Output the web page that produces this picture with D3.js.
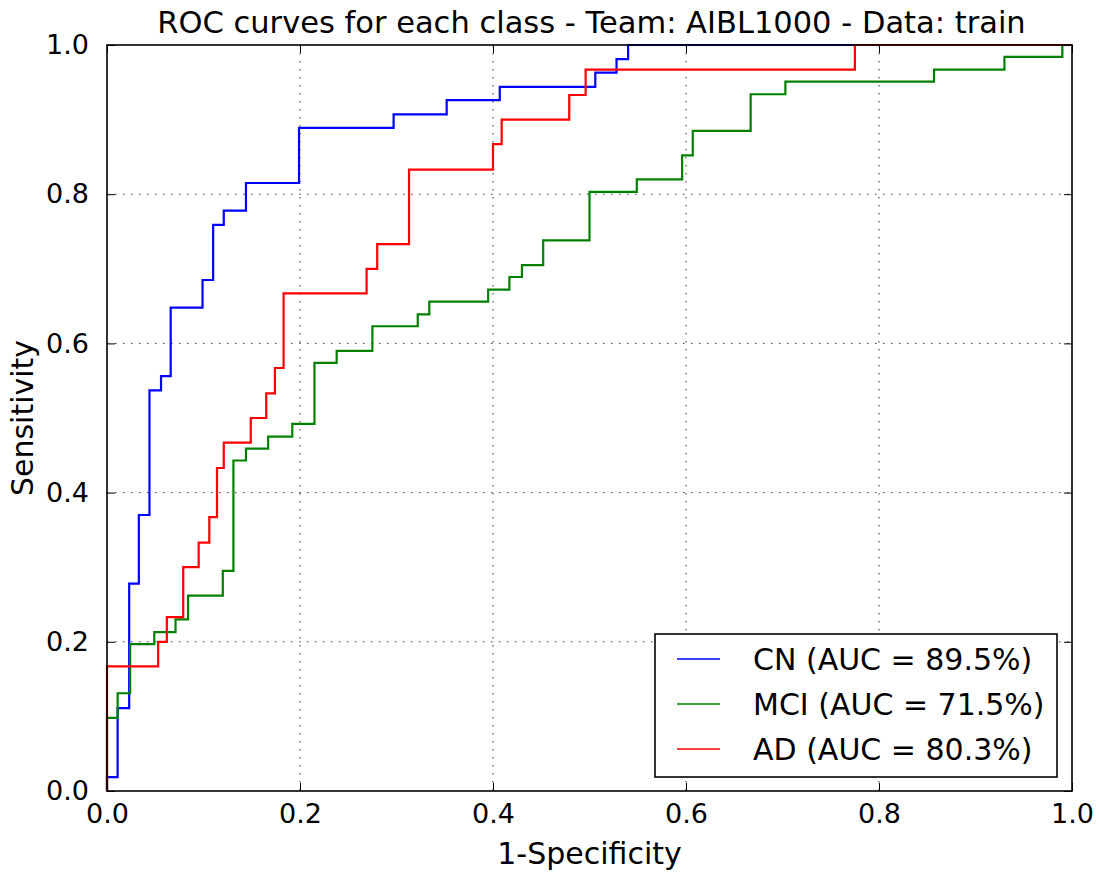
<!DOCTYPE html>
<html lang="en">
<head>
<meta charset="utf-8">
<script src="https://d3js.org/d3.v7.min.js"></script>
<style>
  body { margin: 0; background: #fff; }
  text { font-family: "DejaVu Sans", sans-serif; fill: #000; }
</style>
</head>
<body>
<svg id="chart" width="1099" height="873"></svg>
<script>
// ROC vertices per class: at each fpr the curve steps up to the given tpr
var cnFpr  = [0, 0, 0.011, 0.023, 0.033, 0.044, 0.056, 0.066, 0.099, 0.110, 0.121, 0.144, 0.199, 0.297, 0.352, 0.407, 0.506, 0.528, 0.540, 1.0];
var cnTpr  = [0, 0.0185, 0.111, 0.278, 0.370, 0.537, 0.556, 0.648, 0.685, 0.759, 0.778, 0.815, 0.889, 0.907, 0.926, 0.944, 0.963, 0.981, 1.0, 1.0];

var mciFpr = [0, 0, 0.011, 0.024, 0.049, 0.071, 0.084, 0.120, 0.131, 0.144, 0.167, 0.192, 0.215, 0.238, 0.275, 0.322, 0.334, 0.395, 0.417, 0.430, 0.452, 0.500, 0.549, 0.596, 0.607, 0.667, 0.703, 0.857, 0.930, 0.990, 1.0];
var mciTpr = [0, 0.098, 0.131, 0.197, 0.213, 0.230, 0.262, 0.295, 0.443, 0.459, 0.475, 0.492, 0.574, 0.590, 0.623, 0.639, 0.656, 0.672, 0.689, 0.705, 0.738, 0.803, 0.820, 0.852, 0.885, 0.934, 0.951, 0.967, 0.984, 1.0, 1.0];

var adFpr  = [0, 0, 0.053, 0.062, 0.079, 0.095, 0.106, 0.114, 0.121, 0.149, 0.165, 0.174, 0.183, 0.269, 0.280, 0.313, 0.400, 0.409, 0.479, 0.496, 0.775, 1.0];
var adTpr  = [0, 0.167, 0.200, 0.233, 0.300, 0.333, 0.367, 0.433, 0.467, 0.500, 0.533, 0.567, 0.667, 0.700, 0.733, 0.833, 0.867, 0.900, 0.933, 0.967, 1.0, 1.0];

var classNames = ['CN', 'MCI', 'AD'];
var aucLabels = ['89.5%', '71.5%', '80.3%'];
var classColors = ['#0000ff', '#008000', '#ff0000'];
var tickValues = [0, 0.2, 0.4, 0.6, 0.8, 1.0];

var series = [
  { name: classNames[0], auc: aucLabels[0], color: classColors[0], x: cnFpr, y: cnTpr },
  { name: classNames[1], auc: aucLabels[1], color: classColors[1], x: mciFpr, y: mciTpr },
  { name: classNames[2], auc: aucLabels[2], color: classColors[2], x: adFpr, y: adTpr }
];

var margin = { top: 45, right: 27, bottom: 82, left: 107 },
    width = 1099 - margin.left - margin.right,
    height = 873 - margin.top - margin.bottom;

var svg = d3.select('#chart');
var g = svg.append('g')
  .attr('transform', 'translate(' + margin.left + ',' + margin.top + ')');

var x = d3.scaleLinear().domain([0, 1]).range([0, width]);
var y = d3.scaleLinear().domain([0, 1]).range([height, 0]);

// dotted grid
g.append('g').selectAll('line.vg')
  .data(tickValues.slice(1, -1))
  .enter().append('line')
  .attr('x1', d => x(d)).attr('x2', d => x(d))
  .attr('y1', 0).attr('y2', height)
  .attr('stroke', '#333').attr('stroke-width', 1)
  .attr('stroke-dasharray', '1.5,6.5');

g.append('g').selectAll('line.hg')
  .data(tickValues.slice(1, -1))
  .enter().append('line')
  .attr('y1', d => y(d)).attr('y2', d => y(d))
  .attr('x1', 0).attr('x2', width)
  .attr('stroke', '#333').attr('stroke-width', 1)
  .attr('stroke-dasharray', '1.5,6.5');

// curves
var line = d3.line()
  .x(d => x(d[0]))
  .y(d => y(d[1]))
  .curve(d3.curveStepAfter);

series.forEach(function(s) {
  var pts = s.x.map((v, i) => [v, s.y[i]]);
  g.append('path')
    .datum(pts)
    .attr('d', line)
    .attr('fill', 'none')
    .attr('stroke', s.color)
    .attr('stroke-width', 2.2);
});

// axes, inward ticks on all four sides (matplotlib classic look)
var fmt = d3.format('.1f');
var xB = g.append('g').attr('transform', 'translate(0,' + height + ')')
  .call(d3.axisBottom(x).tickValues(tickValues).tickFormat(fmt).tickSizeInner(-8).tickSizeOuter(0).tickPadding(13));
var xT = g.append('g')
  .call(d3.axisTop(x).tickValues(tickValues).tickFormat('').tickSizeInner(-8).tickSizeOuter(0));
var yL = g.append('g')
  .call(d3.axisLeft(y).tickValues(tickValues).tickFormat(fmt).tickSizeInner(-8).tickSizeOuter(0).tickPadding(18));
var yR = g.append('g').attr('transform', 'translate(' + width + ',0)')
  .call(d3.axisRight(y).tickValues(tickValues).tickFormat('').tickSizeInner(-8).tickSizeOuter(0));

[xB, xT, yL, yR].forEach(function(a) {
  a.select('.domain').remove();
  a.selectAll('line').attr('stroke', '#000').attr('stroke-width', 1);
  a.selectAll('text').style('font-size', '27px').style('font-family', '"DejaVu Sans", sans-serif').attr('fill', '#000');
});
xB.selectAll('text').attr('dy', '0.71em');

// frame
g.append('rect')
  .attr('width', width).attr('height', height)
  .attr('fill', 'none').attr('stroke', '#000').attr('stroke-width', 1.6);

// title and axis labels
svg.append('text')
  .attr('x', margin.left + width / 2 + 2).attr('y', 33)
  .attr('text-anchor', 'middle').style('font-size', '30.5px')
  .text('ROC curves for each class - Team: AIBL1000 - Data: train');

svg.append('text')
  .attr('x', margin.left + width / 2).attr('y', 864)
  .attr('text-anchor', 'middle').style('font-size', '30px')
  .text('1-Specificity');

svg.append('text')
  .attr('transform', 'translate(33,' + (margin.top + height / 2) + ') rotate(-90)')
  .attr('text-anchor', 'middle').style('font-size', '30px')
  .text('Sensitivity');

// legend
var lg = svg.append('g').attr('transform', 'translate(655,634)');
lg.append('rect')
  .attr('width', 402).attr('height', 143)
  .attr('fill', '#fff').attr('stroke', '#000').attr('stroke-width', 1.6);

var rows = lg.selectAll('g.row')
  .data(series)
  .enter().append('g')
  .attr('transform', (d, i) => 'translate(0,' + (25 + i * 45) + ')');

rows.append('line')
  .attr('x1', 22).attr('x2', 65)
  .attr('stroke', d => d.color).attr('stroke-width', 1.5);

rows.append('text')
  .attr('x', 98).attr('dy', '0.36em')
  .style('font-size', '30px')
  .text(d => d.name + ' (AUC = ' + d.auc + ')');
</script>
</body>
</html>
